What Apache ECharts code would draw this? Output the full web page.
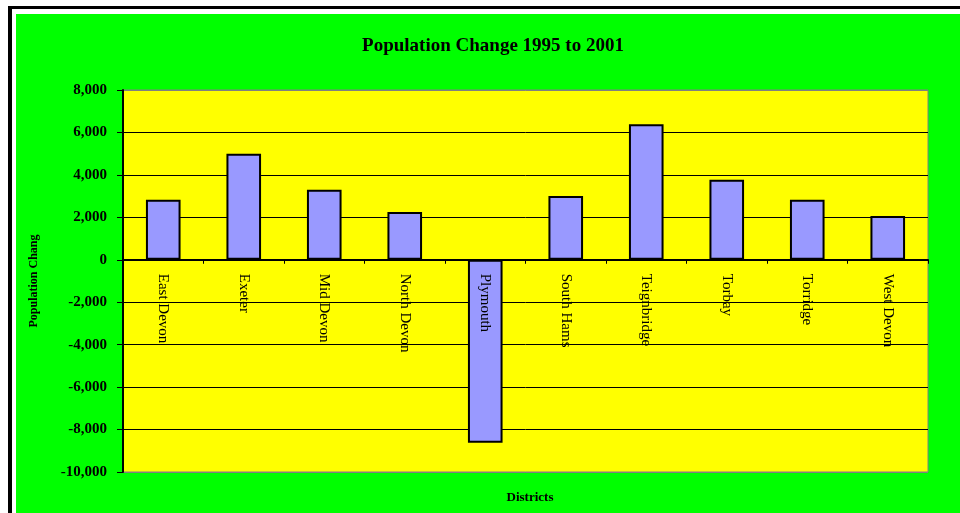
<!DOCTYPE html>
<html>
<head>
<meta charset="utf-8">
<script src="https://cdn.jsdelivr.net/npm/echarts@6/dist/echarts.min.js"></script>
<style>
  html, body { margin: 0; padding: 0; background: #ffffff; }
  #chart { width: 960px; height: 513px; }
</style>
</head>
<body>
<div id="chart"></div>
<script>
// Devon districts and their population change between 1995 and 2001
const districts = ['East Devon', 'Exeter', 'Mid Devon', 'North Devon', 'Plymouth',
                   'South Hams', 'Teignbridge', 'Torbay', 'Torridge', 'West Devon'];
const popChange = [2830, 5000, 3300, 2250, -8620, 3000, 6390, 3770, 2830, 2060];

const titleText = 'Population Change 1995 to 2001';
const yAxisName = 'Population Chang';
const xAxisName = 'Districts';

const yMin = -10000, yMax = 8000, yStep = 2000;

const serif = '"Liberation Serif", "Times New Roman", serif';

// Plot box (pixels)
const W = 960, H = 513;
const gridLeft = 123, gridRight = 32, gridTop = 90, gridBottom = 41;
const plotHeight = H - gridTop - gridBottom;
// The category axis sits on the zero line; shift it up from the plot's bottom edge.
const zeroOffset = -plotHeight * (0 - yMin) / (yMax - yMin);

const chart = echarts.init(document.getElementById('chart'), null, { renderer: 'canvas' });

chart.setOption({
  backgroundColor: '#ffffff',
  animation: false,
  graphic: [
    { type: 'rect', z: -10, silent: true, shape: { x: 8, y: 6, width: 952, height: 507 }, style: { fill: '#000000' } },
    { type: 'rect', z: -10, silent: true, shape: { x: 12, y: 9, width: 948, height: 504 }, style: { fill: '#ffffff' } },
    { type: 'rect', z: -10, silent: true, shape: { x: 16, y: 14, width: 944, height: 499 }, style: { fill: '#00ff00' } }
  ],
  title: [
    {
      text: titleText,
      left: 488,
      top: 32,
      textAlign: 'center',
      textStyle: { fontFamily: serif, fontSize: 19, fontWeight: 'bold', color: '#000000' }
    },
    {
      text: xAxisName,
      left: 525,
      top: 486,
      textAlign: 'center',
      textStyle: { fontFamily: serif, fontSize: 13, fontWeight: 'bold', color: '#000000' }
    }
  ],
  grid: {
    left: gridLeft, right: gridRight, top: gridTop, bottom: gridBottom,
    outerBoundsMode: 'none',
    containLabel: false,
    show: true,
    backgroundColor: '#ffff00',
    borderColor: '#808080',
    borderWidth: 1
  },
  xAxis: {
    type: 'category',
    data: districts,
    offset: zeroOffset,
    z: 5,
    axisLine: { onZero: false, lineStyle: { color: '#000000', width: 2 } },
    axisTick: { show: true, length: 4, lineStyle: { color: '#000000', width: 1 } },
    axisLabel: {
      rotate: -90,
      margin: 14,
      fontFamily: serif,
      fontSize: 15,
      color: '#000000'
    },
    splitLine: { show: false }
  },
  yAxis: {
    type: 'value',
    min: yMin,
    max: yMax,
    interval: yStep,
    name: yAxisName,
    nameLocation: 'middle',
    nameGap: 83,
    nameTextStyle: { fontFamily: serif, fontSize: 12, fontWeight: 'bold', color: '#000000' },
    axisLine: { show: true, lineStyle: { color: '#000000', width: 2 } },
    axisTick: { show: true, length: 6, lineStyle: { color: '#000000', width: 1 } },
    axisLabel: {
      margin: 16,
      fontFamily: serif,
      fontSize: 15,
      fontWeight: 'bold',
      color: '#000000',
      formatter: v => v.toLocaleString('en-US')
    },
    splitLine: {
      show: true,
      lineStyle: {
        color: ['#808080', '#000000', '#000000', '#000000', '#000000',
                '#000000', '#000000', '#000000', '#000000', '#808080'],
        width: 1
      }
    }
  },
  series: [{
    type: 'bar',
    data: popChange,
    barWidth: '43%',
    z: 1,
    itemStyle: { color: '#9999ff', borderColor: '#000000', borderWidth: 2 }
  }]
});
</script>
</body>
</html>
